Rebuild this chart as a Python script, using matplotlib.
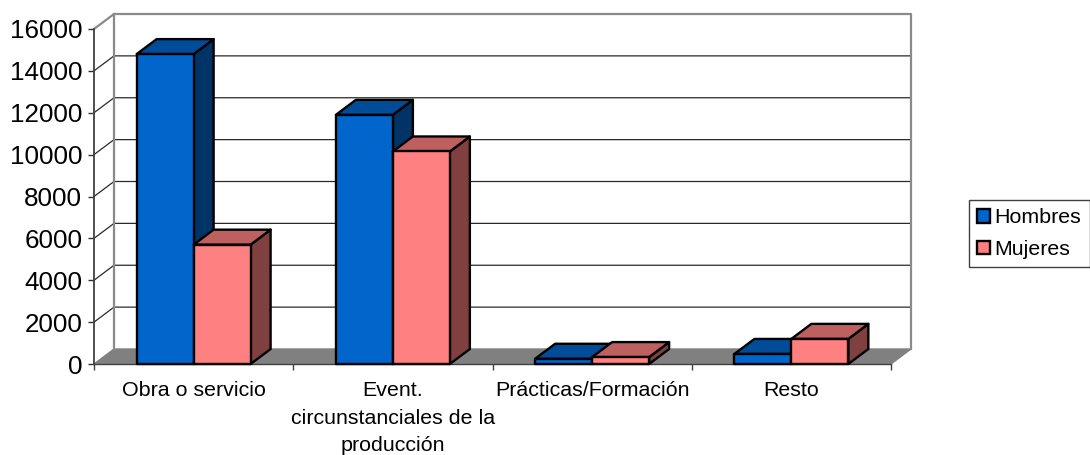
import matplotlib
matplotlib.use("Agg")
import matplotlib.pyplot as plt
from matplotlib.patches import Polygon, Patch

categories = ["Obra o servicio", "Event.\ncircunstanciales de la\nproducción", "Prácticas/Formación", "Resto"]
hombres = [14800, 11900, 250, 480]
mujeres = [5700, 10150, 330, 1200]
yticks = [0, 2000, 4000, 6000, 8000, 10000, 12000, 14000, 16000]
ymax = 16000

W, H = 1090, 455
plt.rcParams['font.family'] = ['Liberation Sans', 'DejaVu Sans']
fig = plt.figure(figsize=(W / 100, H / 100), dpi=100, facecolor='white')
L, R, T, B = 94, 891, 29, 364
ax = fig.add_axes([L / W, 1 - B / H, (R - L) / W, (B - T) / H])
ax.set_xlim(0, len(categories))
ax.set_ylim(0, ymax)
ax.patch.set_visible(False)

# depth of the pseudo-3D box, in data units (20 px right, 15 px up)
dx = 20 / ((R - L) / len(categories))
dy = 15 / ((B - T) / ymax)
n = len(categories)
bar_w = 0.286

GRAY = '#8a8a8a'
# floor
ax.add_patch(Polygon([(0, 0), (n, 0), (n + dx, dy), (dx, dy)], closed=True, fc='#808080', ec='#808080',
                     lw=1, clip_on=False, zorder=1))
# grid lines on side and back walls
for v in yticks[1:-1]:
    ax.plot([0, dx, n + dx], [v, v + dy, v + dy], color='#2a2a2a', lw=0.9, clip_on=False, zorder=1.5)
# back wall frame
ax.plot([0, dx, n + dx, n + dx], [ymax, ymax + dy, ymax + dy, dy], color=GRAY, lw=1.6, clip_on=False, zorder=1.6)
ax.plot([dx, dx], [dy, ymax + dy], color=GRAY, lw=1.6, clip_on=False, zorder=1.6)


def bar3d(x0, v, front, top, side, z):
    x1 = x0 + bar_w
    kw = dict(closed=True, ec='black', lw=1.7, joinstyle='round', clip_on=False, zorder=z)
    ax.add_patch(Polygon([(x1, 0), (x1 + dx, dy), (x1 + dx, v + dy), (x1, v)], fc=side, **kw))
    ax.add_patch(Polygon([(x0, v), (x1, v), (x1 + dx, v + dy), (x0 + dx, v + dy)], fc=top, **kw))
    ax.add_patch(Polygon([(x0, 0), (x1, 0), (x1, v), (x0, v)], fc=front, **kw))


for i, (h, m) in enumerate(zip(hombres, mujeres)):
    c = i + 0.5
    bar3d(c - bar_w, h, '#0066CC', '#004C99', '#003366', 3 + i)
    bar3d(c, m, '#FF8080', '#BF6060', '#804040', 3.5 + i)

ax.set_yticks(yticks)
ax.set_yticklabels([str(v) for v in yticks], fontsize=18.7)
ax.set_xticks(range(n + 1))
ax.set_xticklabels([])
ax.set_xticks([i + 0.5 for i in range(n)], minor=True)
ax.set_xticklabels(categories, minor=True, fontsize=15.4, linespacing=1.57)
ax.tick_params(axis='x', which='minor', length=0, pad=12.5)
ax.tick_params(axis='x', which='major', length=4, width=1, color='#404040')
ax.tick_params(axis='y', length=4, width=1, color='#303030', pad=4.5)
for s in ('top', 'right'):
    ax.spines[s].set_visible(False)
ax.spines['left'].set_color('#404040')
ax.spines['left'].set_linewidth(1.3)
ax.spines['bottom'].set_color('#404040')
ax.spines['bottom'].set_linewidth(1)
ax.spines['bottom'].set_zorder(2)

handles = [Patch(fc='#0066CC', ec='black', lw=1.7, label='Hombres'),
           Patch(fc='#FF8080', ec='black', lw=1.7, label='Mujeres')]
leg = fig.legend(handles=handles, loc='upper left', bbox_to_anchor=(969 / W, 1 - 200 / H), fontsize=15.4,
                 frameon=True, fancybox=False, edgecolor='#404040', framealpha=1,
                 handlelength=0.62, handleheight=0.62, handletextpad=0.2, labelspacing=0.6,
                 borderpad=0.38, borderaxespad=0)
leg.get_frame().set_linewidth(1)

fig.savefig('out.png', dpi=100)
